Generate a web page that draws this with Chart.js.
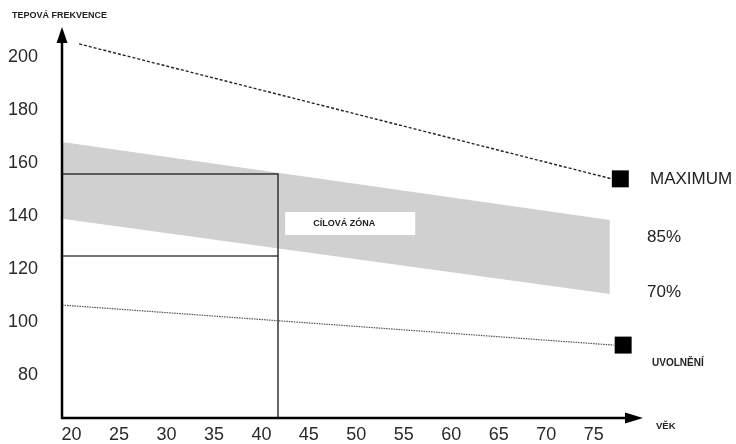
<!DOCTYPE html>
<html>
<head>
<meta charset="utf-8">
<script src="https://cdn.jsdelivr.net/npm/chart.js@4.4.1/dist/chart.umd.min.js"></script>
<style>
  html, body { margin: 0; padding: 0; background: #fff; }
  #wrap { width: 736px; height: 444px; position: relative; }
</style>
</head>
<body>
<div id="wrap"><canvas id="chart"></canvas></div>
<script>
// tick labels
const xTicks = [20, 25, 30, 35, 40, 45, 50, 55, 60, 65, 70, 75];
const yTicks = [80, 100, 120, 140, 160, 180, 200];

// maximum heart rate (dashed line) and its end marker
const maxAges = [20.8, 76.9];
const maxValues = [204.9, 154.0];
const maxMarker = [77.8, 154.0];

// grey band between 85 % and 70 %
const bandAges = [19, 76.7];
const band85 = [167.9, 138.5];
const band70 = [139.0, 110.6];

// relaxation line (dotted) and its end marker
const relaxAges = [19, 77.1];
const relaxValues = [106.4, 91.3];
const relaxMarker = [78.1, 91.3];

// target zone for age ~41
const zoneAge = 41.75;
const zoneTop = 155.8;
const zoneBottom = 124.9;

// right side labels (label, value)
const sideLabels = ['MAXIMUM', '85%', '70%'];
const sideValues = [154.0, 132.1, 111.3];

const X_MIN = 19, X_MAX = 80.4;
const Y_MIN = 63.8, Y_MAX = 210.9;

const pts = (xs, ys) => xs.map((x, i) => ({ x: x, y: ys[i] }));

const FONT = '"Liberation Sans", Arial, sans-serif';

// axis arrows and free texts
const decor = {
    id: 'decor',
    afterDraw(chart) {
        const ctx = chart.ctx;
        const a = chart.chartArea;
        const xs = chart.scales.x, ys = chart.scales.y;
        ctx.save();

        // white box "CÍLOVÁ ZÓNA"
        const bx1 = xs.getPixelForValue(42.5), bx2 = xs.getPixelForValue(56.2);
        const by1 = ys.getPixelForValue(141.5), by2 = ys.getPixelForValue(132.8);
        ctx.fillStyle = '#fff';
        ctx.fillRect(bx1, by1, bx2 - bx1, by2 - by1);
        ctx.fillStyle = '#222';
        ctx.font = 'bold 9px ' + FONT;
        ctx.textBaseline = 'middle';
        ctx.fillText('CÍLOVÁ ZÓNA', bx1 + 28, (by1 + by2) / 2);

        // axes
        ctx.strokeStyle = '#000';
        ctx.fillStyle = '#000';
        ctx.lineWidth = 2.5;
        ctx.beginPath();
        ctx.moveTo(a.left, a.bottom + 1);
        ctx.lineTo(a.left, a.top + 12);
        ctx.moveTo(a.left - 1, a.bottom);
        ctx.lineTo(a.right - 16, a.bottom);
        ctx.stroke();
        ctx.beginPath();
        ctx.moveTo(a.left, a.top - 1);
        ctx.lineTo(a.left - 5.5, a.top + 15);
        ctx.lineTo(a.left + 5.5, a.top + 15);
        ctx.closePath();
        ctx.fill();
        ctx.beginPath();
        ctx.moveTo(a.right - 2, a.bottom);
        ctx.lineTo(a.right - 20, a.bottom - 5.5);
        ctx.lineTo(a.right - 20, a.bottom + 5.5);
        ctx.closePath();
        ctx.fill();

        // axis titles
        ctx.fillStyle = '#222';
        ctx.font = 'bold 9px ' + FONT;
        ctx.textAlign = 'left';
        ctx.fillText('TEPOVÁ FREKVENCE', 12, 16);
        ctx.font = 'bold 9.5px ' + FONT;
        ctx.fillText('VĚK', 656, 426);

        // right side labels
        ctx.font = '17px ' + FONT;
        ctx.fillText(sideLabels[0], 650, ys.getPixelForValue(sideValues[0]));
        ctx.fillText(sideLabels[1], 647, ys.getPixelForValue(sideValues[1]));
        ctx.fillText(sideLabels[2], 647, ys.getPixelForValue(sideValues[2]));
        ctx.font = 'bold 10px ' + FONT;
        ctx.fillText('UVOLNĚNÍ', 652, ys.getPixelForValue(relaxMarker[1]) + 18);
        ctx.restore();
    }
};

new Chart(document.getElementById('chart').getContext('2d'), {
    type: 'line',
    data: {
        datasets: [
            {
                type: 'scatter',
                data: [{ x: maxMarker[0], y: maxMarker[1] }, { x: relaxMarker[0], y: relaxMarker[1] }],
                pointStyle: 'rect',
                pointRadius: 12,
                backgroundColor: '#000',
                borderColor: '#000',
                borderWidth: 0
            },
            {
                data: pts(maxAges, maxValues),
                borderColor: '#222',
                borderWidth: 1.4,
                borderDash: [3, 2],
                pointRadius: 0
            },
            {
                data: pts(relaxAges, relaxValues),
                borderColor: '#555',
                borderWidth: 1.2,
                borderDash: [1.5, 1],
                pointRadius: 0
            },
            {
                data: [{ x: X_MIN, y: zoneTop }, { x: zoneAge, y: zoneTop }, { x: zoneAge, y: Y_MIN }],
                borderColor: '#333',
                borderWidth: 1.5,
                pointRadius: 0
            },
            {
                data: [{ x: X_MIN, y: zoneBottom }, { x: zoneAge, y: zoneBottom }],
                borderColor: '#444',
                borderWidth: 1.5,
                pointRadius: 0
            },
            {
                data: pts(bandAges, band85),
                borderWidth: 0,
                borderColor: 'rgba(0,0,0,0)',
                pointRadius: 0,
                fill: false
            },
            {
                data: pts(bandAges, band70),
                borderWidth: 0,
                borderColor: 'rgba(0,0,0,0)',
                backgroundColor: '#d0d0d0',
                pointRadius: 0,
                fill: '-1'
            }
        ]
    },
    options: {
        responsive: true,
        maintainAspectRatio: false,
        animation: false,
        layout: { padding: { top: 28, right: 91, left: 0, bottom: 0 } },
        plugins: { legend: { display: false }, tooltip: { enabled: false } },
        scales: {
            x: {
                type: 'linear',
                min: X_MIN,
                max: X_MAX,
                grid: { display: false, drawTicks: false },
                border: { display: false },
                afterBuildTicks: s => { s.ticks = xTicks.map(v => ({ value: v })); },
                afterFit: s => {
                    s.height = 26;
                    s.paddingLeft = 0; s.paddingRight = 0; s.paddingTop = 0; s.paddingBottom = 0;
                },
                ticks: { padding: 6, color: '#2a2a2a', font: { family: FONT, size: 18 }, maxRotation: 0 }
            },
            y: {
                min: Y_MIN,
                max: Y_MAX,
                grid: { display: false, drawTicks: false },
                border: { display: false },
                afterBuildTicks: s => { s.ticks = yTicks.map(v => ({ value: v })); },
                afterFit: s => {
                    s.width = 62;
                    s.paddingLeft = 0; s.paddingRight = 0; s.paddingTop = 0; s.paddingBottom = 0;
                },
                ticks: { padding: 24, color: '#2a2a2a', font: { family: FONT, size: 18 } }
            }
        }
    },
    plugins: [decor]
});
</script>
</body>
</html>
